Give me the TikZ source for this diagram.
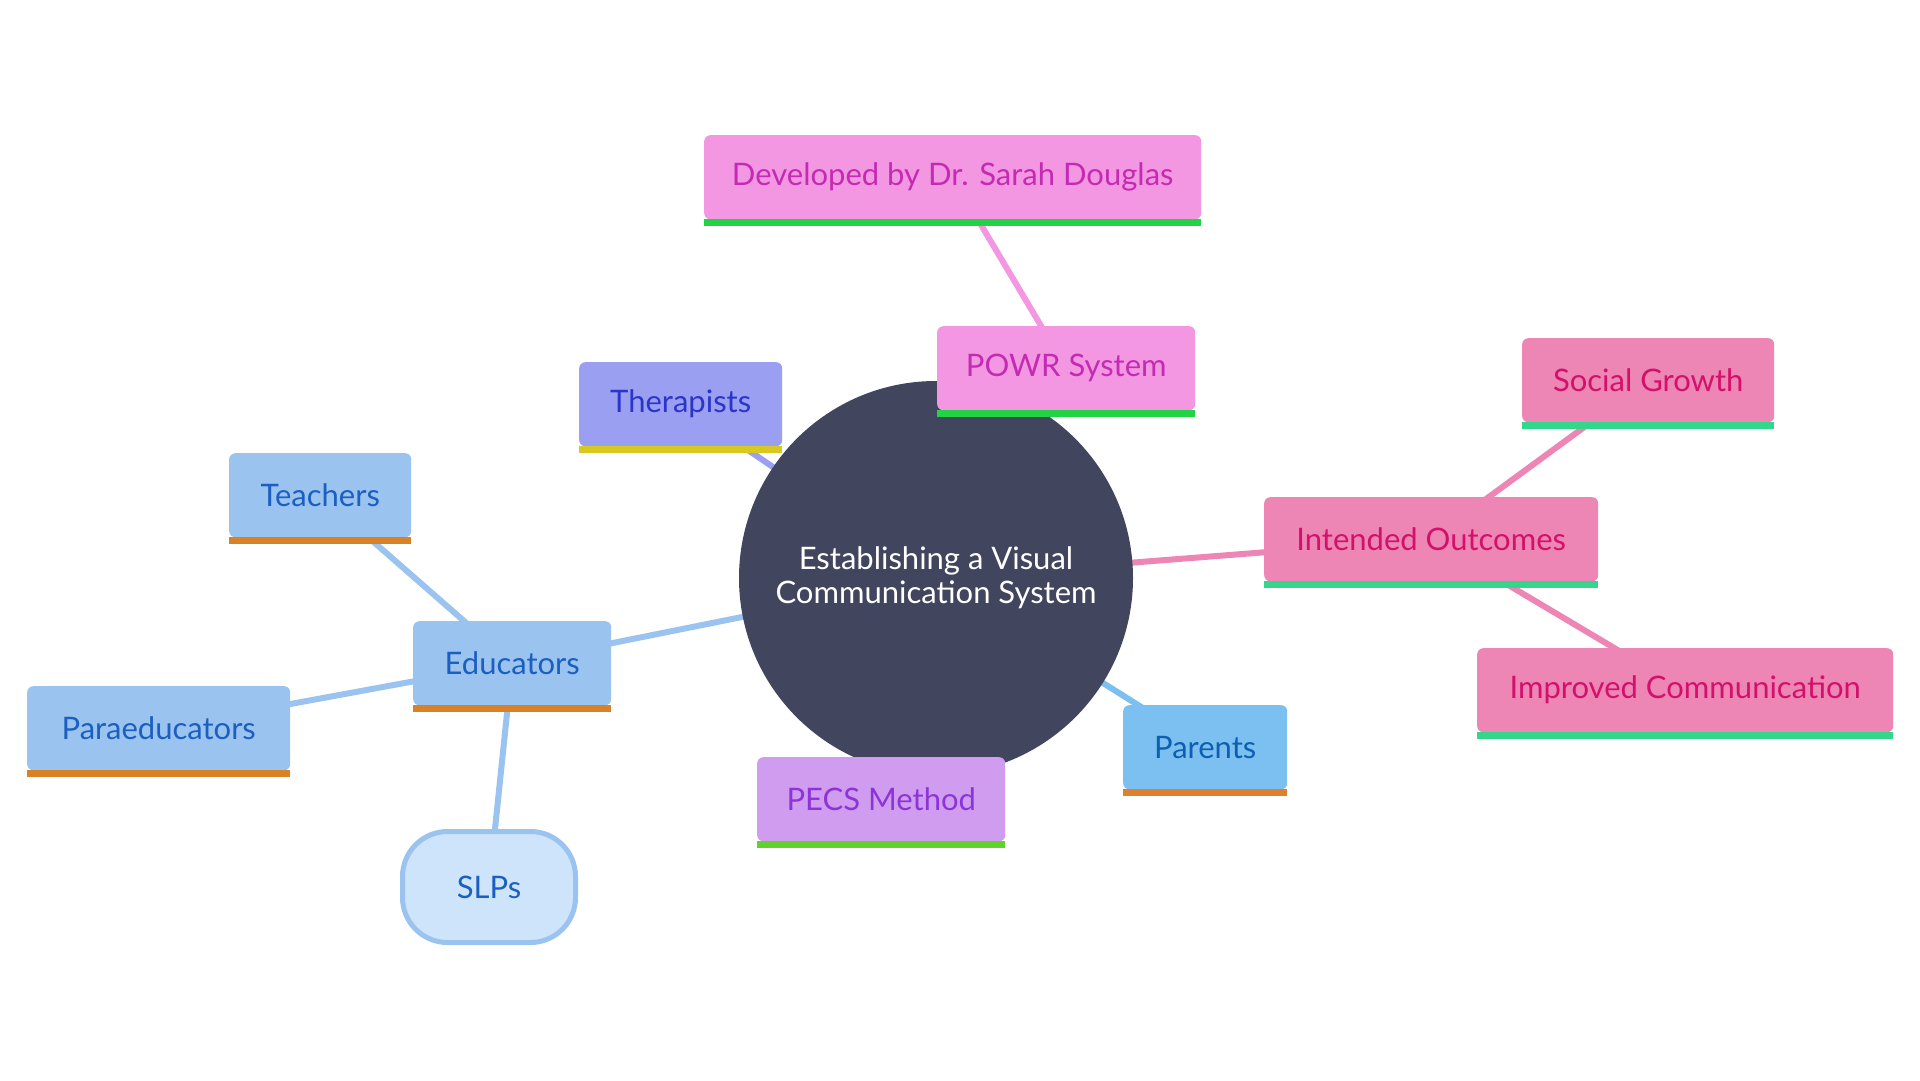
\documentclass[tikz,border=0pt]{standalone}
\usepackage{fontspec}
\setmainfont{Lato}
\usetikzlibrary{backgrounds}
\definecolor{hub}{HTML}{41455E}
\definecolor{pinkfill}{HTML}{F397E3}
\definecolor{pinktext}{HTML}{C42BB2}
\definecolor{pinkbar}{HTML}{22D444}
\definecolor{therfill}{HTML}{9B9FF2}
\definecolor{thertext}{HTML}{2A35C9}
\definecolor{therbar}{HTML}{D8C920}
\definecolor{edufill}{HTML}{9AC3EF}
\definecolor{edutext}{HTML}{1B5FC0}
\definecolor{edubar}{HTML}{D98125}
\definecolor{slpfill}{HTML}{CDE4FB}
\definecolor{pecsfill}{HTML}{CF9CF0}
\definecolor{pecstext}{HTML}{8B35D8}
\definecolor{pecsbar}{HTML}{5FD32A}
\definecolor{parfill}{HTML}{7CBFF1}
\definecolor{partext}{HTML}{0D5FB0}
\definecolor{parbar}{HTML}{E07F2E}
\definecolor{outfill}{HTML}{ED85B5}
\definecolor{outtext}{HTML}{D3106A}
\definecolor{outbar}{HTML}{33D68A}
\begin{document}
\begin{tikzpicture}[x=1pt,y=-1pt,
  leaf/.style={rectangle, rounded corners=6pt, inner sep=0pt, minimum height=84pt,
    font=\fontsize{31}{34}\selectfont, anchor=north west},
  link/.style={line width=6pt},
]
\useasboundingbox (0,0) rectangle (1920,1080);
% hub
\node[circle, fill=hub, minimum size=394pt, inner sep=0pt, text=white, align=center,
  font=\fontsize{31}{34}\selectfont] (c) at (936,578) {Establishing a Visual\\Communication System};
% nodes
\node[leaf, fill=pinkfill, text=pinktext, minimum width=497pt] (dev) at (704,135) {Developed by Dr. Sarah Douglas};
\node[leaf, fill=pinkfill, text=pinktext, minimum width=258pt] (powr) at (937,326) {POWR System};
\node[leaf, fill=therfill, text=thertext, minimum width=203pt] (ther) at (579,362) {Therapists};
\node[leaf, fill=edufill, text=edutext, minimum width=182pt] (teach) at (229,453) {Teachers};
\node[leaf, fill=edufill, text=edutext, minimum width=198pt] (educ) at (413,621) {Educators};
\node[leaf, fill=edufill, text=edutext, minimum width=263pt] (para) at (27,686) {Paraeducators};
\node[leaf, fill=pecsfill, text=pecstext, minimum width=248pt] (pecs) at (757,757) {PECS Method};
\node[leaf, fill=parfill, text=partext, minimum width=164pt] (par) at (1123,705) {Parents};
\node[leaf, fill=outfill, text=outtext, minimum width=334pt] (int) at (1264,497) {Intended Outcomes};
\node[leaf, fill=outfill, text=outtext, minimum width=252pt] (soc) at (1522,338) {Social Growth};
\node[leaf, fill=outfill, text=outtext, minimum width=416pt] (imp) at (1477,648) {Improved Communication};
\node[rectangle, rounded corners=45pt, draw=edufill, line width=5pt, fill=slpfill, text=edutext,
  minimum width=173pt, minimum height=111pt, inner sep=0pt, font=\fontsize{31}{34}\selectfont] (slp) at (489,887) {SLPs};
% bottom bars
\foreach \n/\col in {dev/pinkbar, powr/pinkbar, ther/therbar, teach/edubar, educ/edubar, para/edubar,
  pecs/pecsbar, par/parbar, int/outbar, soc/outbar, imp/outbar}{
  \fill[\col] (\n.south west) rectangle ([yshift=-7pt]\n.south east);
}
\begin{pgfonlayer}{background}
\fill[white] (0,0) rectangle (1920,1080);
\draw[link, pinkfill] (c.center) -- (powr.center);
\draw[link, pinkfill] (powr.center) -- (dev.center);
\draw[link, therfill] (c.center) -- (ther.center);
\draw[link, edufill] (c.center) -- (educ.center);
\draw[link, edufill] (educ.center) -- (teach.center);
\draw[link, edufill] (educ.center) -- (para.center);
\draw[link, edufill] (educ.center) -- (slp.center);
\draw[link, pecsfill] (c.center) -- (pecs.center);
\draw[link, parfill] (c.center) -- (par.center);
\draw[link, outfill] (c.center) -- (int.center);
\draw[link, outfill] (int.center) -- (soc.center);
\draw[link, outfill] (int.center) -- (imp.center);
\end{pgfonlayer}
\end{tikzpicture}
\end{document}
